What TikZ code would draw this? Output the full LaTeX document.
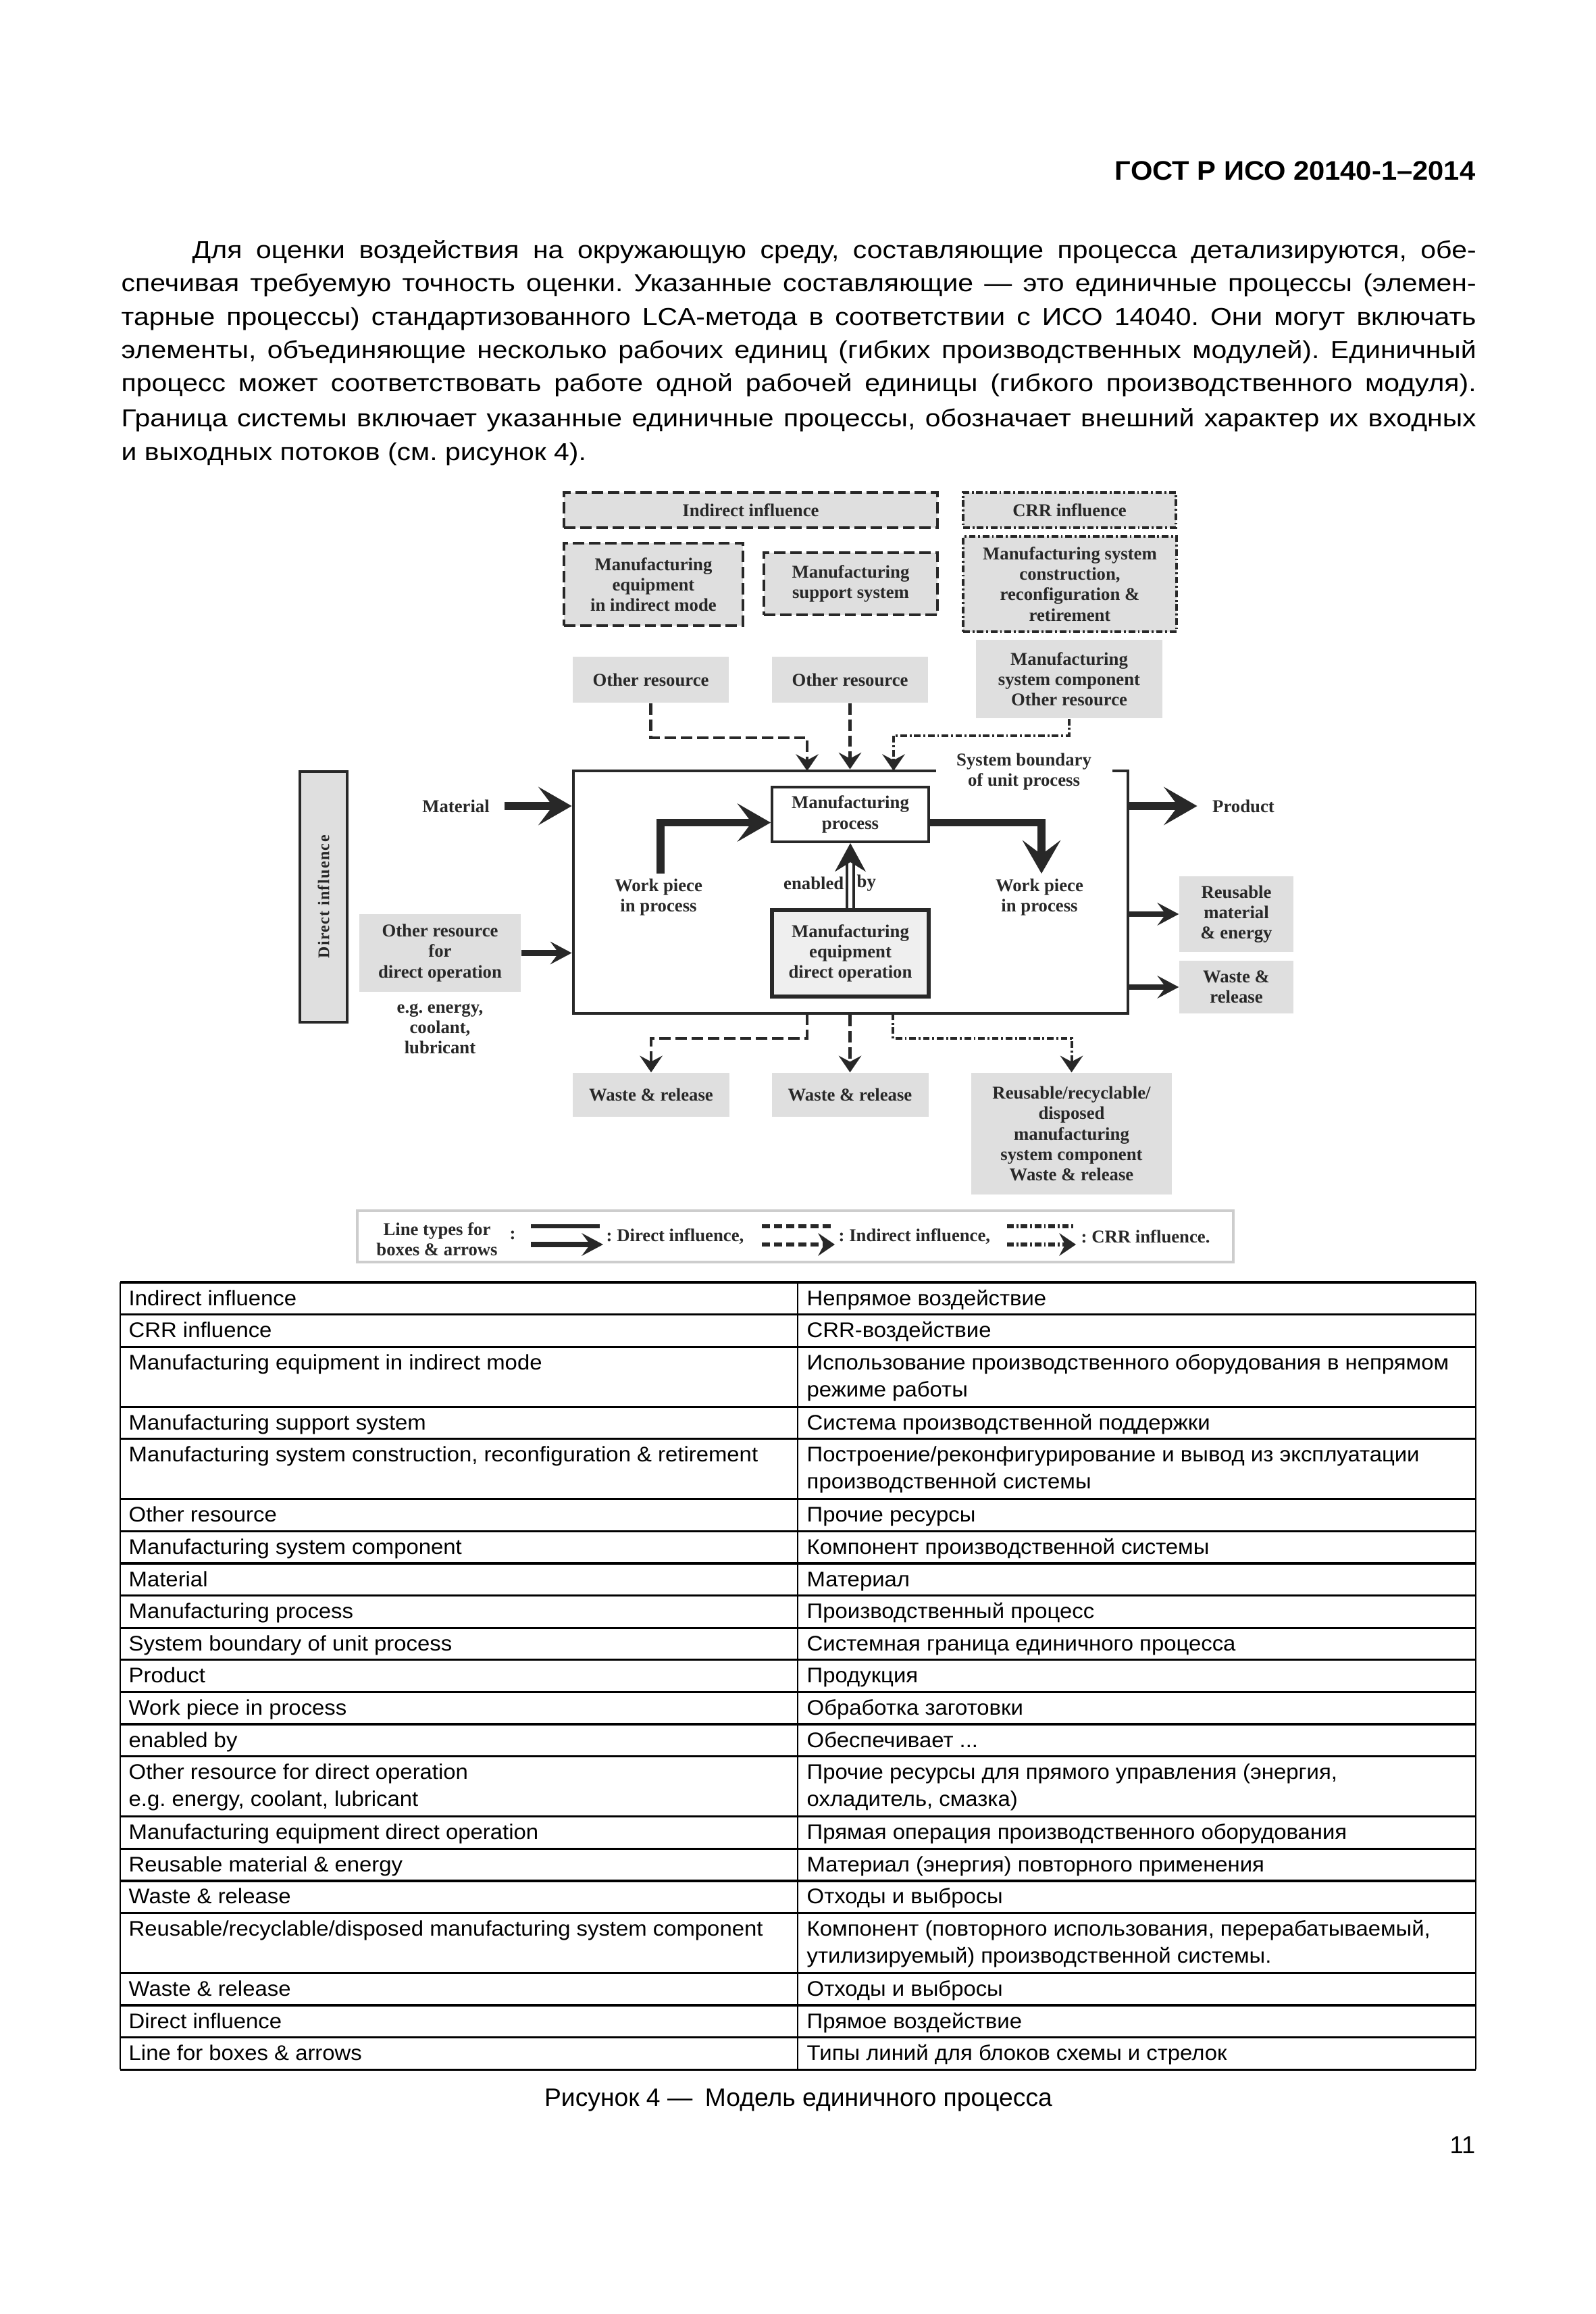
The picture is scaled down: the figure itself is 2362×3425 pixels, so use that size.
\documentclass[tikz,border=0pt]{standalone}
\usepackage{fontspec}
\setmainfont{Liberation Sans}
\newfontfamily\widefont{Liberation Sans}[FakeStretch=1.13]
\newfontfamily\headfont{Liberation Sans}[FakeStretch=1.05]
\newfontfamily\diagfont{Liberation Serif}
\newfontfamily\spacedfont{Liberation Serif}[LetterSpace=6]
\usetikzlibrary{arrows.meta, calc, positioning}
\definecolor{boxgray}{RGB}{223,223,223}
\definecolor{paleGray}{RGB}{239,239,239}
\definecolor{ink}{RGB}{40,40,40}
\definecolor{legendframe}{RGB}{205,205,205}
\newlength{\pxu}
\setlength{\pxu}{0.01cm}
\frenchspacing
\newcommand{\dtext}{\diagfont\bfseries\fontsize{7.6}{8.6}\selectfont}
% one row of the glossary table
\newcommand{\trow}[4]{%
  \node[tabtxt] (#1l) at (190,#2) {#3};
  \node[tabtxt] (#1r) at (1194,#2) {#4};
}

\begin{document}
\begin{tikzpicture}[x=0.01cm, y=-0.01cm,
    bodytxt/.style={anchor=base west, inner sep=0pt, font=\widefont\fontsize{10.3}{12}\selectfont},
    tabtxt/.style={anchor=base west, inner sep=0pt, font=\headfont\fontsize{8.9}{10}\selectfont},
    graybox/.style={fill=boxgray, text=ink, align=center, inner sep=0pt, font=\dtext},
    indbox/.style={graybox, draw=ink, line width=1.15pt, dash pattern=on 4.8pt off 2pt},
    crrbox/.style={graybox, draw=ink, line width=1.15pt, dash pattern=on 2.8pt off 1.1pt on 0.8pt off 1.1pt},
    procbox/.style={draw=ink, fill=white, line width=1.1pt, text=ink, align=center, inner sep=0pt, font=\dtext},
    plaintxt/.style={text=ink, align=center, inner sep=0pt, font=\dtext},
    dirarrow/.style={draw=ink, line width=3.4pt, -{Stealth[length=14pt, width=16pt, inset=6pt]}},
    sidearrow/.style={draw=ink, line width=2.3pt, -{Stealth[length=9pt, width=9.5pt, inset=3.5pt]}},
    indarrow/.style={draw=ink, line width=1.15pt, dash pattern=on 4.8pt off 2pt, -{Stealth[length=7pt, width=9.5pt, inset=2.5pt]}},
    crrarrow/.style={draw=ink, line width=1.15pt, dash pattern=on 2.8pt off 1.1pt on 0.8pt off 1.1pt, -{Stealth[length=7pt, width=9.5pt, inset=2.5pt]}},
    enarrow/.style={draw=ink, double=white, double distance=1.8pt, line width=1pt, -{Stealth[length=12pt, width=13pt, inset=4pt]}},
    tabline/.style={line width=0.95pt},
    tabvline/.style={line width=0.6pt}
]
\fill[white] (0,0) rectangle (2362,3425);
\useasboundingbox (0,0) rectangle (2362,3425);

% header and text
\node[anchor=base east, inner sep=0pt, font=\headfont\bfseries\fontsize{11.3}{13}\selectfont] (head) at (2185,267) {ГОСТ Р ИСО 20140-1–2014};
\node[bodytxt] (p1) at (284,383) {\makebox[1901\pxu][s]{Для оценки воздействия на окружающую среду, составляющие процесса детализируются, обе-}};
\node[bodytxt] (p2) at (179,432) {\makebox[2006\pxu][s]{спечивая требуемую точность оценки. Указанные составляющие — это единичные процессы (элемен-}};
\node[bodytxt] (p3) at (179,482) {\makebox[2006\pxu][s]{тарные процессы) стандартизованного LCA-метода в соответствии с ИСО 14040. Они могут включать}};
\node[bodytxt] (p4) at (179,531) {\makebox[2006\pxu][s]{элементы, объединяющие несколько рабочих единиц (гибких производственных модулей). Единичный}};
\node[bodytxt] (p5) at (179,580) {\makebox[2006\pxu][s]{процесс может соответствовать работе одной рабочей единицы (гибкого производственного модуля).}};
\node[bodytxt] (p6) at (179,632) {\makebox[2006\pxu][s]{Граница системы включает указанные единичные процессы, обозначает внешний характер их входных}};
\node[bodytxt] (p7) at (179,682) {и выходных потоков (см. рисунок 4).};

% influence boxes
\node[indbox, minimum width=553\pxu, minimum height=52\pxu] (indinf) at (1111.5,755) {Indirect influence};
\node[crrbox, minimum width=315\pxu, minimum height=52\pxu] (crrinf) at (1583.5,755) {CRR influence};
\node[indbox, minimum width=265\pxu, minimum height=122\pxu] (meind) at (967.5,865) {Manufacturing\\equipment\\in indirect mode};
\node[indbox, minimum width=257\pxu, minimum height=92\pxu] (mss) at (1259.5,864) {Manufacturing\\support system};
\node[crrbox, minimum width=316\pxu, minimum height=141\pxu] (mscr) at (1584,864.5) {Manufacturing system\\construction,\\reconfiguration \&\\retirement};

% resources on top
\node[graybox, minimum width=231\pxu, minimum height=68\pxu] (or1) at (963.5,1006) {Other resource};
\node[graybox, minimum width=231\pxu, minimum height=68\pxu] (or2) at (1258.5,1006) {Other resource};
\node[graybox, minimum width=276\pxu, minimum height=116\pxu] (msc) at (1583,1005) {Manufacturing\\system component\\Other resource};

% unit process
\node[draw=ink, line width=1.4pt, minimum width=821\pxu, minimum height=359\pxu] (bnd) at (1259.5,1320.5) {};
\node[plaintxt, fill=white, minimum width=261\pxu, minimum height=62\pxu] (sbl) at (1516,1142) {System boundary\\of unit process};
\node[procbox, minimum width=232\pxu, minimum height=81\pxu] (mproc) at (1259,1205.5) {Manufacturing\\process};
\node[procbox, fill=paleGray, line width=1.7pt, minimum width=232\pxu, minimum height=128\pxu] (meq) at (1259,1411) {Manufacturing\\equipment\\direct operation};
\node[plaintxt] (wpl) at (975,1328) {Work piece\\in process};
\node[plaintxt] (wpr) at (1539,1328) {Work piece\\in process};
\node[plaintxt, anchor=east] (en1) at (1250,1307) {enabled};
\node[plaintxt, anchor=west] (en2) at (1268,1307) {by};
\coordinate (wpin) at (978,1293);
\coordinate (wpout) at (1542,1293);
\coordinate (in1) at (1195,1141);
\coordinate (in3) at (1323,1141);
\coordinate (out1) at (1195,1500);
\coordinate (out3) at (1322,1500);

% left side
\node[graybox, draw=ink, line width=1.4pt, rotate=90, minimum width=371\pxu, minimum height=70\pxu, font=\spacedfont\bfseries\fontsize{6.8}{8}\selectfont] (dinf) at (479,1327.5) {Direct influence};
\node[plaintxt] (matl) at (675,1193) {Material};
\node[graybox, minimum width=239\pxu, minimum height=115\pxu] (ordo) at (651.5,1410.5) {Other resource\\for\\direct operation};
\node[plaintxt, below=16\pxu of ordo] (eg) {e.g. energy,\\coolant,\\lubricant};

% right side
\node[plaintxt] (prod) at (1841,1193) {Product};
\node[graybox, minimum width=169\pxu, minimum height=112\pxu] (reuse) at (1830.5,1353) {Reusable\\material\\\& energy};
\node[graybox, minimum width=169\pxu, minimum height=78\pxu] (wrr) at (1830.5,1461) {Waste \&\\release};

% outputs below
\node[graybox, minimum width=232\pxu, minimum height=65\pxu] (wr1) at (964,1620.5) {Waste \& release};
\node[graybox, minimum width=232\pxu, minimum height=65\pxu] (wr2) at (1258.5,1620.5) {Waste \& release};
\node[graybox, minimum width=297\pxu, minimum height=180\pxu] (rrd) at (1586.5,1678) {Reusable/recyclable/\\disposed\\manufacturing\\system component\\Waste \& release};

% arrows
\draw[dirarrow] ($(matl.east)+(22,0)$) -- (matl -| bnd.west);
\draw[sidearrow] (ordo.east) -- (ordo -| bnd.west);
\draw[dirarrow] (wpin) |- ($(mproc.west)+(0,12)$);
\draw[dirarrow] ($(mproc.east)+(0,12)$) -| (wpout);
\draw[enarrow] (meq.north) -- (mproc.south);
\draw[dirarrow] (prod -| bnd.east) -- ($(prod.west)+(-22,0)$);
\draw[sidearrow] (reuse -| bnd.east) -- (reuse.west);
\draw[sidearrow] (wrr -| bnd.east) -- (wrr.west);
\draw[indarrow] (or1.south) -- ++(0,51) -| (in1);
\draw[indarrow] (or2.south) -- (or2.south |- bnd.north);
\draw[crrarrow] (msc.south) -- ++(0,25) -| (in3);
\draw[indarrow] (out1) -- ++(0,37) -| (wr1.north);
\draw[indarrow] (wr2.north |- bnd.south) -- (wr2.north);
\draw[crrarrow] (out3) -- ++(0,37) -| (rrd.north);

% legend
\node[draw=legendframe, line width=0.9pt, minimum width=1297\pxu, minimum height=76\pxu] (legend) at (1177.5,1830) {};
\node[plaintxt] (legtxt) at (647,1834) {Line types for\\boxes \& arrows};
\node[plaintxt] (legcol) at (759,1828) {:};
\draw[ink, line width=1.7pt] (786,1815) -- (888,1815);
\draw[sidearrow, line width=2.2pt] (786,1842) -- (893,1842);
\node[plaintxt, anchor=west] (legdir) at (897,1830) {: Direct influence,};
\draw[ink, line width=1.7pt, dash pattern=on 3.4pt off 1.7pt] (1128,1815) -- (1234,1815);
\draw[indarrow, line width=1.7pt, dash pattern=on 3.4pt off 1.7pt] (1128,1842) -- (1236,1842);
\node[plaintxt, anchor=west] (legind) at (1241,1830) {: Indirect influence,};
\draw[ink, line width=1.7pt, dash pattern=on 2.8pt off 1.1pt on 0.8pt off 1.1pt] (1491,1815) -- (1589,1815);
\draw[crrarrow, line width=1.7pt] (1491,1842) -- (1593,1842);
\node[plaintxt, anchor=west] (legcrr) at (1600,1830) {: CRR influence.};

% table
\foreach \yy in {1898,1945.6,1993.2,2082.2,2129.8,2218.8,2266.4,2314,2361.6,2409.2,2456.8,2504.4,2552,2599.6,2688.6,2736.2,2783.8,2831.4,2920.4,2968,3015.6,3063.2}
  \draw[tabline] (178,\yy) -- (2185,\yy);
\foreach \xx in {178,1181,2185}
  \draw[tabvline] (\xx,1898) -- (\xx,3063.2);
\trow{r1}{1932}{Indirect influence}{Непрямое воздействие}
\trow{r2}{1979.6}{CRR influence}{CRR-воздействие}
\trow{r3}{2027.2}{Manufacturing equipment in indirect mode}{Использование производственного оборудования в непрямом}
\node[tabtxt] (r3b) at (1194,2067.2) {режиме работы};
\trow{r4}{2116.2}{Manufacturing support system}{Система производственной поддержки}
\trow{r5}{2163.8}{Manufacturing system construction, reconfiguration \& retirement}{Построение/реконфигурирование и вывод из эксплуатации}
\node[tabtxt] (r5b) at (1194,2203.8) {производственной системы};
\trow{r6}{2252.8}{Other resource}{Прочие ресурсы}
\trow{r7}{2300.4}{Manufacturing system component}{Компонент производственной системы}
\trow{r8}{2348}{Material}{Материал}
\trow{r9}{2395.6}{Manufacturing process}{Производственный процесс}
\trow{r10}{2443.2}{System boundary of unit process}{Системная граница единичного процесса}
\trow{r11}{2490.8}{Product}{Продукция}
\trow{r12}{2538.4}{Work piece in process}{Обработка заготовки}
\trow{r13}{2586}{enabled by}{Обеспечивает ...}
\trow{r14}{2633.6}{Other resource for direct operation}{Прочие ресурсы для прямого управления (энергия,}
\trow{r14b}{2673.6}{e.g. energy, coolant, lubricant}{охладитель, смазка)}
\trow{r15}{2722.6}{Manufacturing equipment direct operation}{Прямая операция производственного оборудования}
\trow{r16}{2770.2}{Reusable material \& energy}{Материал (энергия) повторного применения}
\trow{r17}{2817.8}{Waste \& release}{Отходы и выбросы}
\trow{r18}{2865.4}{Reusable/recyclable/disposed manufacturing system component}{Компонент (повторного использования, перерабатываемый,}
\node[tabtxt] (r18b) at (1194,2905.4) {утилизируемый) производственной системы.};
\trow{r19}{2954.4}{Waste \& release}{Отходы и выбросы}
\trow{r20}{3002}{Direct influence}{Прямое воздействие}
\trow{r21}{3049.6}{Line for boxes \& arrows}{Типы линий для блоков схемы и стрелок}

% caption and page number
\node[anchor=base, inner sep=0pt, font=\fontsize{10.6}{12}\selectfont] (cap) at (1182,3117) {Рисунок 4 —\enspace Модель единичного процесса};
\node[anchor=base east, inner sep=0pt, font=\fontsize{10.3}{12}\selectfont] (pnum) at (2185,3187) {11};
\end{tikzpicture}
\end{document}
